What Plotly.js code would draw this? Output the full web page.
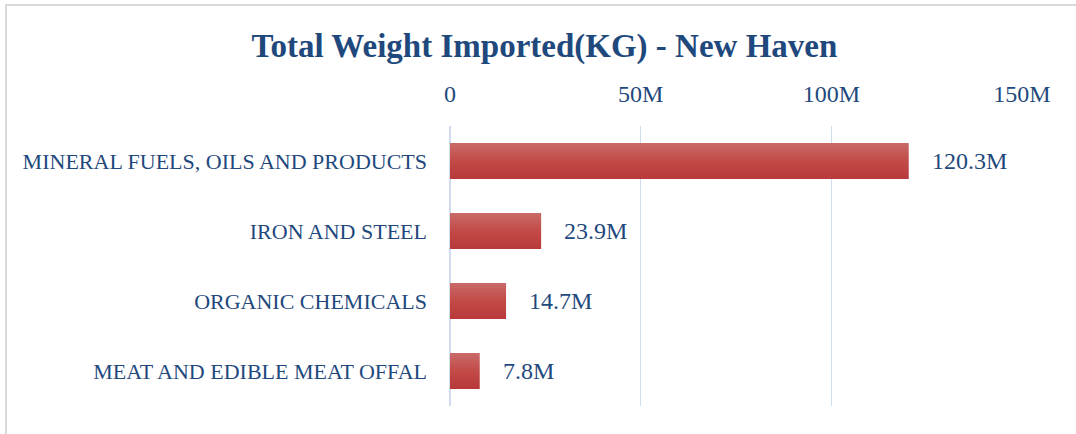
<!DOCTYPE html>
<html>
<head>
<meta charset="utf-8">
<script src="https://cdn.plot.ly/plotly-3.0.1.min.js"></script>
<style>
  html,body{margin:0;padding:0;background:#fff;}
  #wrap{position:relative;width:1076px;height:434px;}
  #chart{width:1076px;height:434px;}
  #frame{position:absolute;left:5px;top:4px;right:-10px;bottom:-10px;border-left:2px solid #d9d9d9;border-top:2px solid #d9d9d9;pointer-events:none;}
</style>
</head>
<body>
<div id="wrap">
  <div id="chart"></div>
  <div id="frame"></div>
</div>
<script>
// chart data
const categories = ['MINERAL FUELS, OILS AND PRODUCTS','IRON AND STEEL','ORGANIC CHEMICALS','MEAT AND EDIBLE MEAT OFFAL'];
const weightsKg = [120.3e6, 23.9e6, 14.7e6, 7.8e6];
const valueLabels = ['120.3M','23.9M','14.7M','7.8M'];
const tickVals = [0, 50e6, 100e6, 150e6];
const tickText = ['0','50M','100M','150M'];

const navy = '#1f497d';
const serif = '"Liberation Serif", "DejaVu Serif", serif';

const trace = {
  type:'bar',
  orientation:'h',
  y:categories,
  x:weightsKg,
  marker:{color:'#c0504d', line:{width:0}},
  hoverinfo:'skip'
};

// data labels sit a bit further out than plotly's default outside text
const labelAnnotations = categories.map((c,i) => ({
  x:weightsKg[i], y:c, xref:'x', yref:'y',
  text:valueLabels[i], showarrow:false,
  xanchor:'left', yanchor:'middle', xshift:21,
  font:{family:serif, size:24, color:navy}
}));

const layout = {
  width:1076, height:434,
  margin:{l:450, r:54, t:126, b:28},
  paper_bgcolor:'#fff',
  plot_bgcolor:'#fff',
  showlegend:false,
  bargap:0.486,
  annotations:labelAnnotations,
  title:{
    text:'<b>Total Weight Imported(KG) - New Haven</b>',
    font:{family:serif, size:33, color:navy},
    x:0.506, xref:'container', xanchor:'center',
    y:0.895, yref:'container', yanchor:'middle'
  },
  xaxis:{
    side:'top',
    range:[0,150e6],
    tickvals:tickVals,
    ticktext:tickText,
    showgrid:true,
    gridcolor:'#d0dcf0',
    gridwidth:1.5,
    zeroline:true,
    zerolinecolor:'#d0dcf0',
    zerolinewidth:1.5,
    showline:false,
    ticks:'',
    ticklabelstandoff:18,
    tickfont:{family:serif, size:24, color:navy},
    fixedrange:true
  },
  yaxis:{
    categoryorder:'array',
    categoryarray:categories,
    autorange:'reversed',
    showgrid:false,
    zeroline:false,
    showline:false,
    ticks:'',
    ticklabelstandoff:22,
    tickfont:{family:serif, size:22, color:navy},
    fixedrange:true
  }
};

Plotly.newPlot('chart', [trace], layout, {displayModeBar:false, staticPlot:true}).then(gd => {
  // Excel-style vertical gradient on the bars
  const svg = gd.querySelector('svg.main-svg');
  const ns = 'http://www.w3.org/2000/svg';
  let defs = svg.querySelector('defs');
  if(!defs){ defs = document.createElementNS(ns,'defs'); svg.insertBefore(defs, svg.firstChild); }
  const lg = document.createElementNS(ns,'linearGradient');
  lg.setAttribute('id','barGrad');
  lg.setAttribute('x1','0'); lg.setAttribute('y1','0');
  lg.setAttribute('x2','0'); lg.setAttribute('y2','1');
  [['0%','#c96b69'],['50%','#c24a47'],['100%','#b8393a']].forEach(([o,c])=>{
    const s = document.createElementNS(ns,'stop');
    s.setAttribute('offset',o); s.setAttribute('stop-color',c);
    lg.appendChild(s);
  });
  defs.appendChild(lg);
  gd.querySelectorAll('.barlayer .point path').forEach(p => { p.style.fill = 'url(#barGrad)'; });
});
</script>
</body>
</html>
